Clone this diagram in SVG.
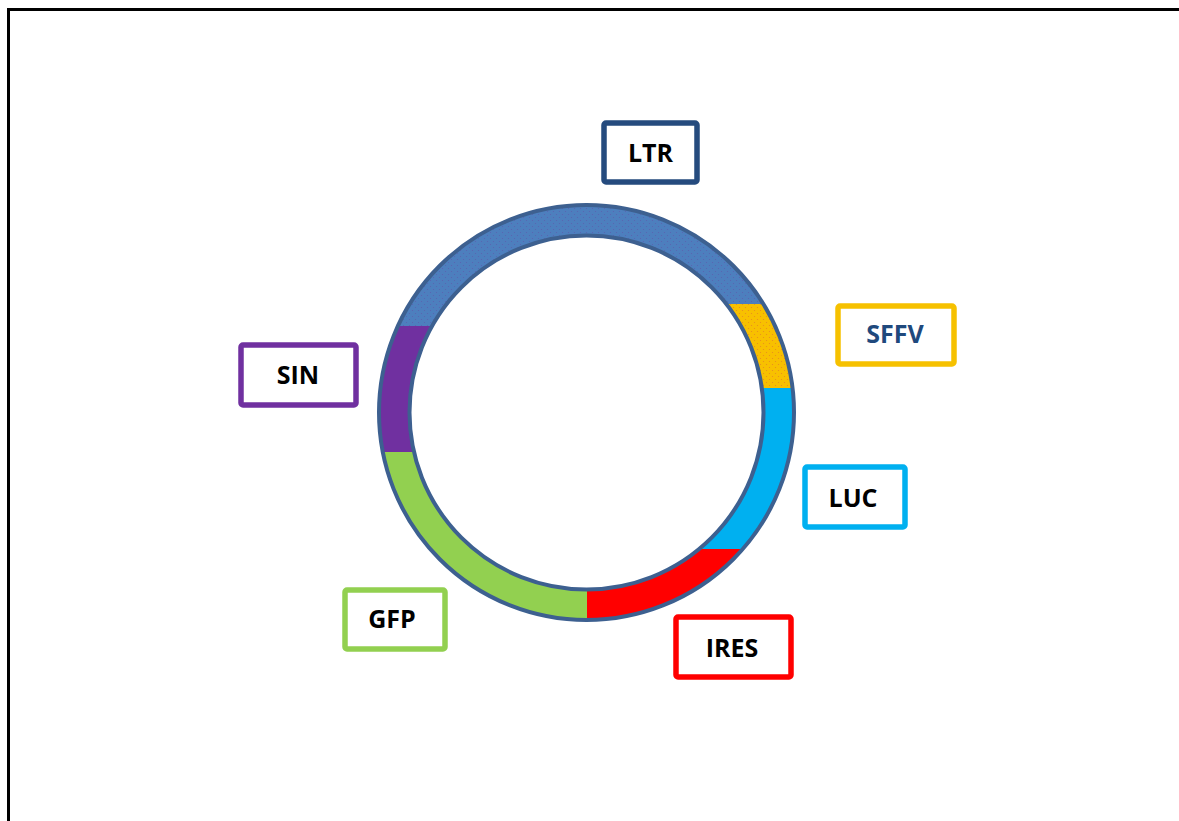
<svg xmlns="http://www.w3.org/2000/svg" width="1179" height="821" viewBox="0 0 1179 821">
  <style>
    .box { fill: #ffffff; stroke-width: 5.5; }
    .lbl { font-family: "Open Sans", "Liberation Sans", sans-serif; font-weight: bold; font-size: 25px; text-anchor: middle; fill: #000000; }
    .seg { fill: none; stroke-width: 31; }
    .edge { fill: none; stroke: #3d6090; stroke-width: 4; }
  </style>
  <defs>
    <pattern id="dotsBlue" width="6" height="6" patternUnits="userSpaceOnUse">
      <rect width="6" height="6" fill="#4d7fbe"/>
      <circle cx="1.5" cy="1.5" r="0.6" fill="#5a62b0"/>
      <circle cx="4.5" cy="4.5" r="0.6" fill="#5a62b0"/>
    </pattern>
    <pattern id="dotsGold" width="6" height="6" patternUnits="userSpaceOnUse">
      <rect width="6" height="6" fill="#f8c000"/>
      <circle cx="1.5" cy="1.5" r="0.6" fill="#e88a20"/>
      <circle cx="4.5" cy="4.5" r="0.6" fill="#e88a20"/>
    </pattern>
    <clipPath id="cSFFV"><rect x="587" y="304" width="260" height="84"/></clipPath>
    <clipPath id="cLUC"><rect x="587" y="388" width="260" height="161"/></clipPath>
    <clipPath id="cIRES"><rect x="587" y="549" width="260" height="100"/></clipPath>
    <clipPath id="cSIN"><rect x="340" y="326" width="247" height="126"/></clipPath>
    <clipPath id="cGFP"><rect x="340" y="452" width="247" height="200"/></clipPath>
  </defs>

  <rect x="8.5" y="9.5" width="1200" height="900" fill="#ffffff" stroke="#000000" stroke-width="3"/>

  <g id="plasmid">
    <circle class="seg" cx="586.5" cy="412.5" r="192.25" stroke="url(#dotsBlue)"/>
    <circle class="seg" cx="586.5" cy="412.5" r="192.25" stroke="url(#dotsGold)" clip-path="url(#cSFFV)"/>
    <circle class="seg" cx="586.5" cy="412.5" r="192.25" stroke="#00b0f0" clip-path="url(#cLUC)"/>
    <circle class="seg" cx="586.5" cy="412.5" r="192.25" stroke="#ff0000" clip-path="url(#cIRES)"/>
    <circle class="seg" cx="586.5" cy="412.5" r="192.25" stroke="#7030a0" clip-path="url(#cSIN)"/>
    <circle class="seg" cx="586.5" cy="412.5" r="192.25" stroke="#92d050" clip-path="url(#cGFP)"/>
    <circle class="edge" cx="586.5" cy="412.5" r="207.5"/>
    <circle class="edge" cx="586.5" cy="412.5" r="177"/>
  </g>

  <g id="node-ltr">
    <rect class="box" x="604" y="123" width="93" height="59" rx="2" stroke="#254b7e"/>
    <text class="lbl" x="650.5" y="162">LTR</text>
  </g>
  <g id="node-sffv">
    <rect class="box" x="838" y="306" width="116" height="58" rx="2" stroke="#f6c100"/>
    <text class="lbl" x="895" y="343" style="fill:#1f497d">SFFV</text>
  </g>
  <g id="node-luc">
    <rect class="box" x="805" y="467" width="100" height="60" rx="2" stroke="#00b0f0"/>
    <text class="lbl" x="853" y="507">LUC</text>
  </g>
  <g id="node-ires">
    <rect class="box" x="676" y="617" width="115" height="60" rx="2" stroke="#ff0000"/>
    <text class="lbl" x="732" y="657">IRES</text>
  </g>
  <g id="node-gfp">
    <rect class="box" x="345" y="590" width="100" height="59" rx="2" stroke="#92d050"/>
    <text class="lbl" x="392" y="628">GFP</text>
  </g>
  <g id="node-sin">
    <rect class="box" x="241" y="345" width="115" height="60" rx="2" stroke="#7030a0"/>
    <text class="lbl" x="298" y="384">SIN</text>
  </g>
</svg>
